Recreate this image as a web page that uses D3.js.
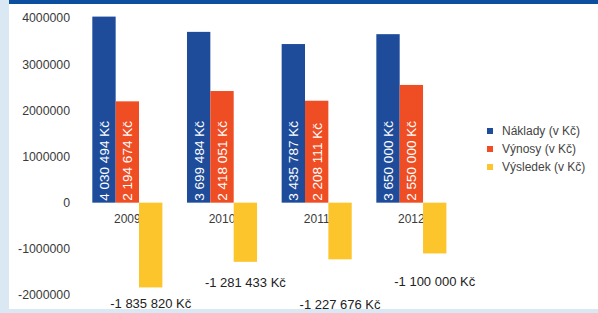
<!DOCTYPE html>
<html>
<head>
<meta charset="utf-8">
<script src="https://cdn.jsdelivr.net/npm/d3@7"></script>
<style>
  body { margin: 0; background: #fff; }
  svg { display: block; font-family: "Liberation Sans", Arial, sans-serif; }
</style>
</head>
<body>
<div id="chart"></div>
<script>
// data
var years = ["2009", "2010", "2011", "2012"];
var naklady = [4030494, 3699484, 3435787, 3650000];
var vynosy = [2194674, 2418051, 2208111, 2550000];
var vysledek = [-1835820, -1281433, -1227676, -1100000];
var seriesNames = ["Náklady (v Kč)", "Výnosy (v Kč)", "Výsledek (v Kč)"];
var yTicks = [-2000000, -1000000, 0, 1000000, 2000000, 3000000, 4000000];

// layout bits
var colors = ["#1e4c9a", "#ef4d23", "#fcc52b"];
var labelDy = [16, 20, 45, 28];   // how far each result label sits under its bar

var svgWidth = 598, svgHeight = 313;

var svg = d3.select("#chart").append("svg")
  .attr("width", svgWidth)
  .attr("height", svgHeight);

// frame: light blue left strip + bottom strip, dark blue band on top
svg.append("rect").attr("x", 0).attr("y", 0).attr("width", 9).attr("height", svgHeight).attr("fill", "#d9e8f3");
svg.append("rect").attr("x", 0).attr("y", 309).attr("width", svgWidth).attr("height", 4).attr("fill", "#d9e8f3");
svg.append("rect").attr("x", 9).attr("y", 0).attr("width", svgWidth - 9).attr("height", 4).attr("fill", "#0c4f9f");

var czk = d3.formatLocale({
  decimal: ",", thousands: " ", grouping: [3],
  currency: ["", " Kč"], minus: "-"
}).format("$,d");

var xScale = d3.scaleBand().domain(years).range([80, 458.7])
  .paddingInner(0.26).paddingOuter(0.13);
var xSeries = d3.scaleBand().domain([0, 1, 2]).range([0, xScale.bandwidth()]);
var yScale = d3.scaleLinear().domain([-2000000, 4000000]).range([295, 18]);

// left axis, labels only
var leftAxis = d3.axisLeft(yScale).tickValues(yTicks).tickSize(0).tickPadding(0)
  .tickFormat(function(d) { return String(d); });
var gy = svg.append("g").attr("transform", "translate(70,0)").call(leftAxis);
gy.select(".domain").remove();
gy.selectAll("text").attr("font-size", "12.3px").attr("fill", "#3a3a3a")
  .attr("font-family", "Liberation Sans, Arial, sans-serif");

// category labels at the zero line (drawn under the bars)
var bottomAxis = d3.axisBottom(xScale).tickSize(0).tickPadding(12);
var gx = svg.append("g").attr("transform", "translate(0," + yScale(0) + ")").call(bottomAxis);
gx.select(".domain").remove();
gx.selectAll("text").attr("font-size", "12px").attr("fill", "#3a3a3a")
  .attr("font-family", "Liberation Sans, Arial, sans-serif");

var rows = years.map(function(y, i) {
  return { year: y, values: [naklady[i], vynosy[i], vysledek[i]], idx: i };
});

var groups = svg.selectAll(".grp").data(rows).enter().append("g")
  .attr("class", "grp")
  .attr("transform", function(d) { return "translate(" + xScale(d.year) + ",0)"; });

groups.selectAll("rect").data(function(d) {
  return d.values.map(function(v, k) { return { v: v, k: k }; });
}).enter().append("rect")
  .attr("x", function(d) { return xSeries(d.k); })
  .attr("width", xSeries.bandwidth())
  .attr("y", function(d) { return yScale(Math.max(0, d.v)); })
  .attr("height", function(d) { return Math.abs(yScale(d.v) - yScale(0)); })
  .attr("fill", function(d) { return colors[d.k]; });

// white rotated labels inside the positive bars
groups.each(function(d) {
  var g = d3.select(this);
  [0, 1].forEach(function(k) {
    var cx = xSeries(k) + xSeries.bandwidth() / 2;
    var cy = yScale(0) - 2;
    g.append("text")
      .attr("transform", "translate(" + cx + "," + cy + ") rotate(-90)")
      .attr("dy", "0.36em")
      .attr("font-size", "13.5px")
      .attr("fill", "#fff")
      .text(czk(d.values[k]));
  });
  // result label under the yellow bar
  g.append("text")
    .attr("x", xSeries(2) + xSeries.bandwidth() / 2)
    .attr("y", yScale(d.values[2]) + labelDy[d.idx])
    .attr("dy", "0.36em")
    .attr("text-anchor", "middle")
    .attr("font-size", "13px")
    .attr("fill", "#222")
    .text(czk(d.values[2]));
});

// legend
var legend = svg.append("g").attr("transform", "translate(487,131)");
seriesNames.forEach(function(name, i) {
  var row = legend.append("g").attr("transform", "translate(0," + (i * 18) + ")");
  row.append("rect").attr("x", 0).attr("y", -3).attr("width", 6).attr("height", 6).attr("fill", colors[i]);
  row.append("text").attr("x", 15).attr("dy", "0.36em")
    .attr("font-size", "12px").attr("fill", "#444").text(name);
});
</script>
</body>
</html>
